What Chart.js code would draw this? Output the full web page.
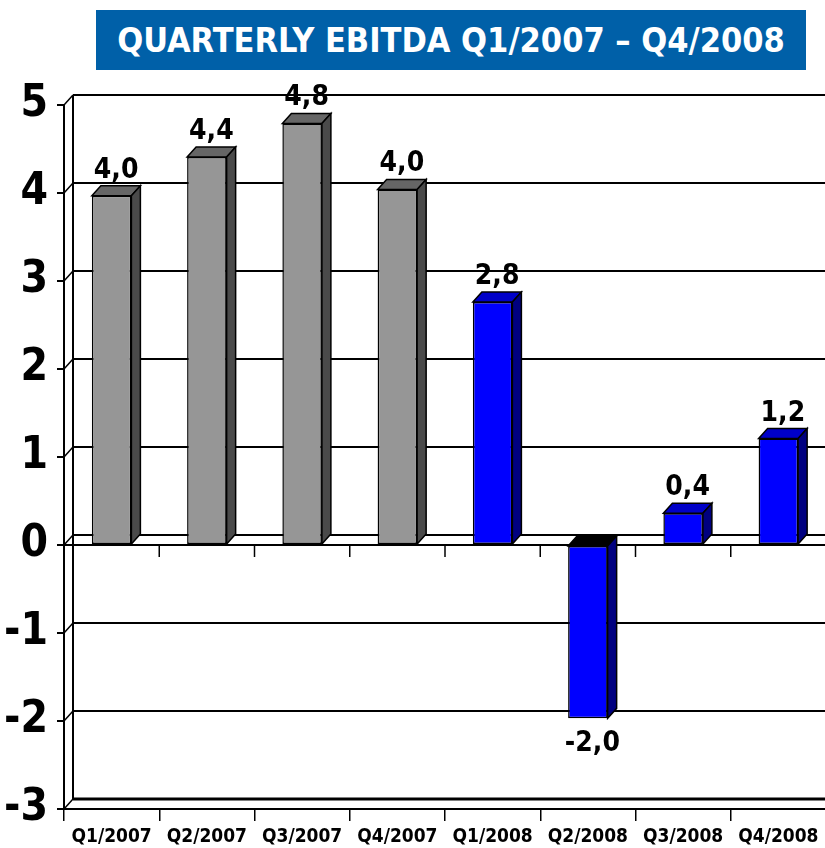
<!DOCTYPE html>
<html>
<head>
<meta charset="utf-8">
<script src="https://cdn.jsdelivr.net/npm/chart.js@4.4.1/dist/chart.umd.min.js"></script>
<style>
  html, body { margin: 0; padding: 0; background: #fff; overflow: hidden; width: 825px; height: 848px; }
  #wrap { position: absolute; left: 0; top: 0; width: 830px; height: 848px; }
  #title {
    position: absolute; left: 96px; top: 10px; width: 710px; height: 60px;
    background: #0060A8; color: #fff; text-align: center; line-height: 60px;
    font-family: 'DejaVu Sans Condensed', 'DejaVu Sans', sans-serif; font-weight: bold; font-size: 34px;
    z-index: 2;
  }
</style>
</head>
<body>
<div id="wrap"><canvas id="c" width="830" height="848"></canvas></div>
<div id="title">QUARTERLY EBITDA Q1/2007 – Q4/2008</div>
<script>
// ---- data ----
const categories = ['Q1/2007', 'Q2/2007', 'Q3/2007', 'Q4/2007', 'Q1/2008', 'Q2/2008', 'Q3/2008', 'Q4/2008'];
const ebitda = [3.97, 4.41, 4.79, 4.04, 2.76, -1.97, 0.36, 1.21];
const yMin = -3;
const yMax = 5;
const yStep = 1;

// ---- styles ----
const PAL = {
  '2007': { front: '#969696', top: '#666666', side: '#4a4a4a' },
  '2008': { front: '#0000FF', top: '#0000C8', side: '#000080' }
};
const yearOf = c => c.split('/')[1];
const DEPTH = { dx: 9, dy: 10 };
const FONT_NARROW = "'Liberation Sans Narrow', 'DejaVu Sans Condensed', sans-serif";
const FONT_COND = "'DejaVu Sans Condensed', 'DejaVu Sans', sans-serif";

const fmt = v => v.toFixed(1).replace('.', ',');

const wall3d = {
  id: 'wall3d',
  beforeDatasetsDraw(chart) {
    const ctx = chart.ctx, a = chart.chartArea;
    const ys = chart.scales.y, xs = chart.scales.x;
    const { dx, dy } = DEPTH;
    ctx.save();
    ctx.strokeStyle = '#000';
    ctx.lineCap = 'butt';
    ys.ticks.forEach(t => {
      const yf = ys.getPixelForValue(t.value);
      ctx.lineWidth = (t.value === yMin) ? 3 : 2;
      ctx.beginPath();
      ctx.moveTo(a.left + dx, yf - dy);
      ctx.lineTo(a.right + 4, yf - dy);
      ctx.stroke();
      ctx.lineWidth = 1.5;
      ctx.beginPath();
      ctx.moveTo(a.left, yf);
      ctx.lineTo(a.left + dx, yf - dy);
      ctx.stroke();
    });
    ctx.lineWidth = 2;
    ctx.beginPath();
    ctx.moveTo(a.left + dx, ys.getPixelForValue(yMax) - dy);
    ctx.lineTo(a.left + dx, ys.getPixelForValue(yMin) - dy);
    ctx.stroke();
    const y0 = ys.getPixelForValue(0);
    ctx.lineWidth = 2;
    ctx.beginPath();
    ctx.moveTo(a.left, y0);
    ctx.lineTo(a.right + 4, y0);
    ctx.stroke();
    ctx.lineWidth = 1.5;
    for (let i = 1; i < categories.length; i++) {
      const xb = (xs.getPixelForValue(i - 1) + xs.getPixelForValue(i)) / 2;
      ctx.beginPath();
      ctx.moveTo(xb, y0);
      ctx.lineTo(xb, y0 + 12);
      ctx.stroke();
    }
    ctx.restore();
  },
  afterDatasetsDraw(chart) {
    const ctx = chart.ctx;
    const { dx, dy } = DEPTH;
    const meta = chart.getDatasetMeta(0);
    ctx.save();
    ctx.strokeStyle = '#000';
    ctx.lineWidth = 1.5;
    ctx.lineJoin = 'miter';
    meta.data.forEach((bar, i) => {
      const p = bar.getProps(['x', 'y', 'base', 'width'], true);
      const l = p.x - p.width / 2, r = p.x + p.width / 2;
      const top = Math.min(p.y, p.base), bot = Math.max(p.y, p.base);
      const pal = PAL[yearOf(categories[i])];
      const neg = ebitda[i] < 0;
      ctx.fillStyle = neg ? '#000000' : pal.top;
      ctx.beginPath();
      ctx.moveTo(l, top); ctx.lineTo(r, top); ctx.lineTo(r + dx, top - dy); ctx.lineTo(l + dx, top - dy); ctx.closePath();
      ctx.fill(); ctx.stroke();
      ctx.fillStyle = pal.side;
      ctx.beginPath();
      ctx.moveTo(r, top); ctx.lineTo(r + dx, top - dy); ctx.lineTo(r + dx, bot - dy); ctx.lineTo(r, bot); ctx.closePath();
      ctx.fill(); ctx.stroke();
      ctx.fillStyle = '#000';
      ctx.font = 'bold 28px ' + FONT_COND;
      ctx.textAlign = 'center';
      if (neg) {
        ctx.textBaseline = 'top';
        ctx.fillText(fmt(ebitda[i]), p.x + dx / 2, bot + 11);
      } else {
        ctx.textBaseline = 'alphabetic';
        ctx.fillText(fmt(ebitda[i]), p.x + dx / 2, top - dy - 8);
      }
    });
    ctx.restore();
  }
};

new Chart(document.getElementById('c'), {
  type: 'bar',
  data: {
    labels: categories,
    datasets: [{
      data: ebitda,
      backgroundColor: categories.map(c => PAL[yearOf(c)].front),
      borderColor: '#000',
      borderWidth: 1.5,
      borderSkipped: false,
      barPercentage: 0.415,
      categoryPercentage: 1.0
    }]
  },
  options: {
    responsive: false,
    animation: false,
    devicePixelRatio: 1,
    layout: { padding: { top: 105, right: 4, bottom: 0, left: 0 } },
    plugins: { legend: { display: false }, tooltip: { enabled: false }, title: { display: false } },
    scales: {
      x: {
        offset: true,
        grid: { display: true, drawOnChartArea: false, drawTicks: true, tickLength: 12, color: '#000', lineWidth: 1.5, offset: true },
        border: { display: true, color: '#000', width: 2 },
        ticks: { color: '#000', font: { family: FONT_COND, size: 19, weight: 'bold' }, padding: 5, maxRotation: 0, autoSkip: false },
        afterFit(s) { s.height = 39; }
      },
      y: {
        min: yMin, max: yMax,
        grid: { display: true, drawOnChartArea: false, drawTicks: true, tickLength: 7, color: '#000', lineWidth: 2 },
        border: { display: true, color: '#000', width: 2 },
        ticks: { stepSize: yStep, color: '#000', font: { family: FONT_NARROW, size: 44, weight: 'bold' }, padding: 9 },
        afterFit(s) { s.width = 64; }
      }
    }
  },
  plugins: [wall3d]
});
</script>
</body>
</html>
